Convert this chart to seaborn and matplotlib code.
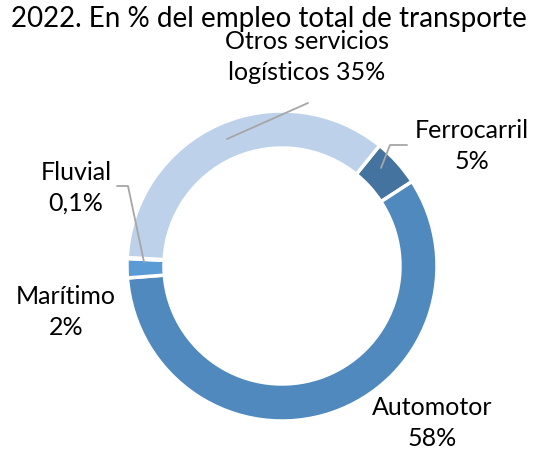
import matplotlib
matplotlib.use("Agg")
import matplotlib.pyplot as plt
import seaborn as sns

# Empleo en transporte 2022, % del total
categories = ["Ferrocarril", "Automotor", "Marítimo", "Fluvial", "Otros servicios\nlogísticos"]
values = [5, 58, 2, 0.1, 35]
value_labels = ["5%", "58%", "2%", "0,1%", "35%"]
colors = ["#44739f", "#4f89bd", "#5b9bd5", "#5b9bd5", "#bdd1ea"]

sns.set_theme(style="white")
plt.rcParams["font.family"] = ["Lato", "DejaVu Sans"]

fig = plt.figure(figsize=(5.37, 4.53), dpi=100)
ax = fig.add_axes([0, 0, 1, 1])

H = 453
cx, cy, r = 282, H - 266, 155
ax.pie(values, colors=colors, startangle=51, counterclock=False,
       center=(cx, cy), radius=r, frame=True,
       wedgeprops=dict(width=37, edgecolor="white", linewidth=2.5))
ax.set_xlim(0, 537)
ax.set_ylim(0, 453)
ax.set_aspect("equal")
ax.axis("off")

fs = 18
txt = dict(fontsize=fs, color="black", ha="center", va="center", linespacing=1.4)
# label text positions (image px)
ax.text(307, H - 57, "Otros servicios\nlogísticos " + value_labels[4], **txt)
ax.text(472, H - 146, f"{categories[0]}\n{value_labels[0]}", **txt)
ax.text(76, H - 188, f"{categories[3]}\n{value_labels[3]}", **txt)
ax.text(66, H - 312, f"{categories[2]}\n{value_labels[2]}", **txt)
ax.text(432, H - 423, f"{categories[1]}\n{value_labels[1]}", **txt)

# leader lines
lc = dict(color="#a6a6a6", linewidth=1.3)
ax.plot([308, 227], [H - 103, H - 139], **lc)
ax.plot([407, 390, 381], [H - 145, H - 145, H - 168], **lc)
ax.plot([117, 128, 144], [H - 186, H - 186, H - 262], **lc)

fig.text(0.5, 1 - 19 / H, "2022. En % del empleo total de transporte",
         fontsize=20, color="black", ha="center", va="center")

fig.savefig("out.png", dpi=100, facecolor="white")
